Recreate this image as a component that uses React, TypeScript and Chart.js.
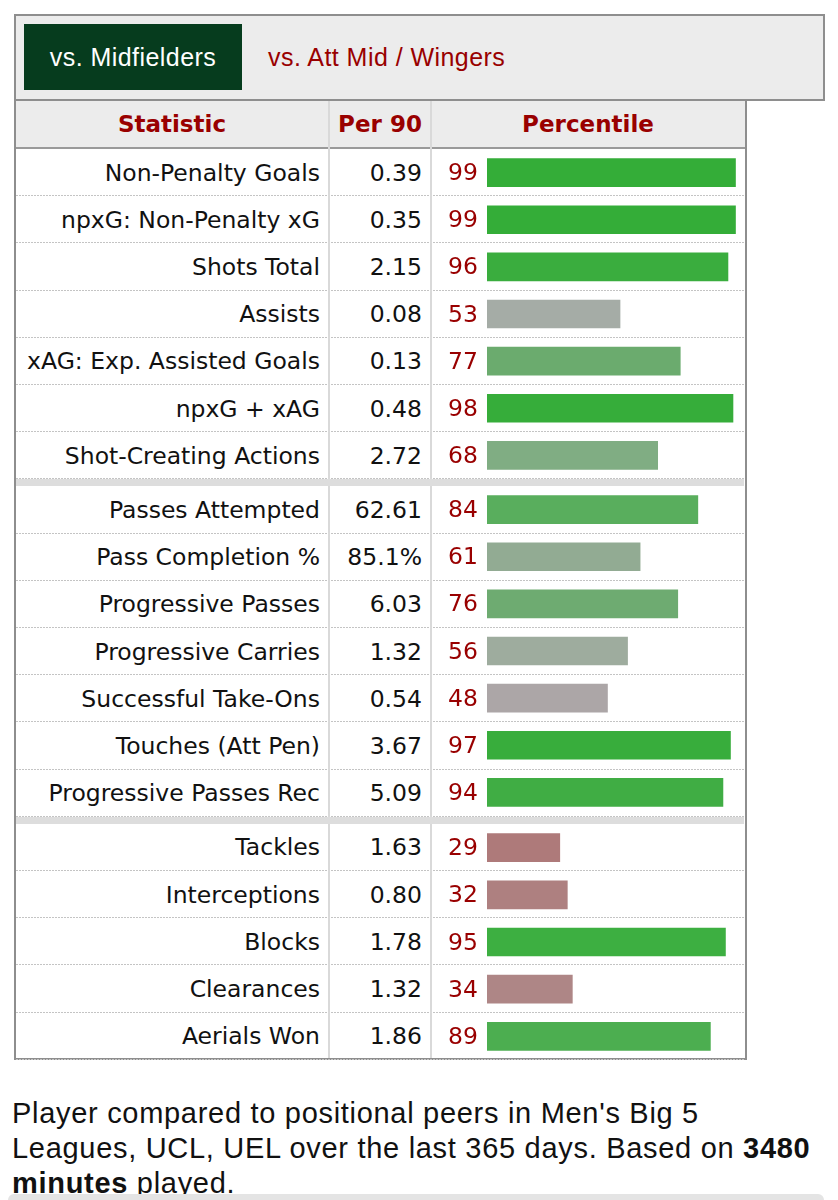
import React, { useEffect, useRef } from "react";
import { Chart, registerables } from "chart.js";

Chart.register(...registerables);

// ---------- data ----------
const statsA = [
  "Non-Penalty Goals",
  "npxG: Non-Penalty xG",
  "Shots Total",
  "Assists",
  "xAG: Exp. Assisted Goals",
  "npxG + xAG",
  "Shot-Creating Actions",
];
const per90A = ["0.39", "0.35", "2.15", "0.08", "0.13", "0.48", "2.72"];
const pctA = [99, 99, 96, 53, 77, 98, 68];

const statsB = [
  "Passes Attempted",
  "Pass Completion %",
  "Progressive Passes",
  "Progressive Carries",
  "Successful Take-Ons",
  "Touches (Att Pen)",
  "Progressive Passes Rec",
];
const per90B = ["62.61", "85.1%", "6.03", "1.32", "0.54", "3.67", "5.09"];
const pctB = [84, 61, 76, 56, 48, 97, 94];

const statsC = ["Tackles", "Interceptions", "Blocks", "Clearances", "Aerials Won"];
const per90C = ["1.63", "0.80", "1.78", "1.32", "1.86"];
const pctC = [29, 32, 95, 34, 89];

const tabLabels = ["vs. Midfielders", "vs. Att Mid / Wingers"];
const headerLabels = ["Statistic", "Per 90", "Percentile"];

// bar colour for each percentile shown
const pctColors: Record<number, string> = {
  99: "#34ad38",
  98: "#36ad3a",
  97: "#38ad3c",
  96: "#3aad3e",
  95: "#3daf41",
  94: "#40ad44",
  89: "#4cae50",
  84: "#59ae5d",
  77: "#6bab6e",
  76: "#6eab71",
  68: "#80ad83",
  61: "#92ab93",
  56: "#9eac9e",
  53: "#a5aca6",
  48: "#aca6a7",
  34: "#ae8686",
  32: "#ae8080",
  29: "#ae7a7a",
};

// ---------- layout ----------
const OX = 8;
const OY = 8;
const ROW_H = 47.2;
const SEP_H = 7;
const BODY_TOP = 149;
const COL3_LEFT = 432;
const COL3_W = 312;
const RED = "#990000";
const BODY_FONT = "'DejaVu Sans', Verdana, sans-serif";
const UI_FONT = "'Liberation Sans', Arial, Helvetica, sans-serif";

const groups = [
  { stats: statsA, per90: per90A, pct: pctA },
  { stats: statsB, per90: per90B, pct: pctB },
  { stats: statsC, per90: per90C, pct: pctC },
];

function GroupChart({ stats, pct, top }: { stats: string[]; pct: number[]; top: number }) {
  const ref = useRef<HTMLCanvasElement | null>(null);
  const h = Math.round(stats.length * ROW_H);
  useEffect(() => {
    if (!ref.current) return;
    const chart = new Chart(ref.current, {
      type: "bar",
      data: {
        labels: stats,
        datasets: [
          {
            data: pct,
            backgroundColor: pct.map((p) => pctColors[p] || "#999"),
            borderWidth: 0,
            barThickness: 28,
          },
        ],
      },
      options: {
        indexAxis: "y",
        animation: false,
        responsive: false,
        maintainAspectRatio: false,
        layout: { padding: { left: 0, right: 6, top: 0, bottom: 0 } },
        plugins: { legend: { display: false }, tooltip: { enabled: false } },
        scales: {
          x: { display: false, min: 0, max: 100 },
          y: {
            grid: { display: false, drawTicks: false },
            border: { display: false },
            ticks: {
              color: RED,
              padding: 9,
              labelOffset: 1.5,
              font: { family: "'DejaVu Sans'", size: 23.5 },
              callback: (_v: any, i: number) => String(pct[i]),
            },
            afterFit: (s: any) => {
              s.width = 55;
              s.paddingTop = 0;
              s.paddingBottom = 0;
            },
          },
        },
      },
    } as any);
    return () => chart.destroy();
  }, []);
  return (
    <canvas
      ref={ref}
      width={COL3_W}
      height={h}
      style={{
        position: "absolute",
        left: COL3_LEFT - OX,
        top: Math.round(top) - OY,
        width: COL3_W,
        height: h,
      }}
    />
  );
}

export default function App() {
  const groupTops: number[] = [];
  let t = BODY_TOP;
  groups.forEach((g) => {
    groupTops.push(t);
    t += g.stats.length * ROW_H + SEP_H;
  });

  const abs = (x: number, y: number, w: number, h: number, extra: React.CSSProperties = {}) =>
    ({
      position: "absolute",
      left: x - OX,
      top: y - OY,
      width: w,
      height: h,
      boxSizing: "border-box",
      ...extra,
    }) as React.CSSProperties;

  const rows: React.ReactNode[] = [];
  groups.forEach((g, gi) => {
    g.stats.forEach((s, i) => {
      const y = groupTops[gi] + i * ROW_H;
      rows.push(
        <div
          key={`r${gi}-${i}`}
          style={abs(16, y, 728, ROW_H, {
            backgroundImage: "linear-gradient(to right, #c4c4c4 60%, rgba(255,255,255,0) 60%)",
            backgroundSize: "3px 1px",
            backgroundRepeat: "repeat-x",
            backgroundPosition: "0 100%",
          })}
        >
          <div
            style={{
              position: "absolute",
              left: 0,
              width: 312,
              top: 0,
              height: ROW_H,
              display: "flex",
              alignItems: "center",
              justifyContent: "flex-end",
              paddingRight: 8,
              boxSizing: "border-box",
              fontFamily: BODY_FONT,
              fontSize: 23.5,
              color: "#111",
              whiteSpace: "nowrap",
            }}
          >
            {s}
          </div>
          <div
            style={{
              position: "absolute",
              left: 314,
              width: 100,
              top: 0,
              height: ROW_H,
              display: "flex",
              alignItems: "center",
              justifyContent: "flex-end",
              paddingRight: 8,
              boxSizing: "border-box",
              fontFamily: BODY_FONT,
              fontSize: 23.5,
              color: "#111",
              whiteSpace: "nowrap",
            }}
          >
            {g.per90[i]}
          </div>
        </div>
      );
    });
    if (gi < groups.length - 1) {
      const y = groupTops[gi] + g.stats.length * ROW_H;
      rows.push(
        <div key={`sep${gi}`} style={abs(16, y, 728, SEP_H, { background: "#dddddd", zIndex: 2 })} />
      );
    }
  });

  return (
    <div style={{ position: "relative", width: 830, height: 1192 }}>
      {/* tab box */}
      <div style={abs(14, 14, 811, 87, { background: "#ececec", border: "2px solid #8e8e8e" })} />
      <div
        style={abs(24, 24, 218, 66, {
          background: "#063c1e",
          color: "#fff",
          fontFamily: UI_FONT,
          fontSize: 25,
          letterSpacing: 0.45,
          display: "flex",
          alignItems: "center",
          justifyContent: "center",
        })}
      >
        {tabLabels[0]}
      </div>
      <div
        style={abs(268, 24, 300, 66, {
          color: RED,
          fontFamily: UI_FONT,
          fontSize: 25,
          letterSpacing: 0.45,
          display: "flex",
          alignItems: "center",
          whiteSpace: "nowrap",
        })}
      >
        {tabLabels[1]}
      </div>

      {/* table */}
      <div style={abs(14, 99, 733, 961, { background: "#fff", border: "2px solid #8e8e8e" })} />
      <div style={abs(16, 101, 729, 46, { background: "#ececec" })} />
      <div style={abs(16, 146.5, 729, 2.5, { background: "#9a9a9a" })} />
      {headerLabels.map((h, i) => {
        const x = [16, 330, 432][i];
        const w = [312, 100, 312][i];
        return (
          <div
            key={h}
            style={abs(x, 101, w, 46, {
              display: "flex",
              alignItems: "center",
              justifyContent: "center",
              fontFamily: BODY_FONT,
              fontWeight: "bold",
              fontSize: 23,
              color: RED,
              whiteSpace: "nowrap",
            })}
          >
            {h}
          </div>
        );
      })}
      {rows}
      {/* column separators */}
      <div style={abs(328, 101, 2, 957, { background: "#d9d9d9", zIndex: 1 })} />
      <div style={abs(430, 101, 2, 957, { background: "#d9d9d9", zIndex: 1 })} />

      {groups.map((g, gi) => (
        <GroupChart key={gi} stats={g.stats} pct={g.pct} top={groupTops[gi]} />
      ))}

      {/* footer note */}
      <div
        style={abs(12, 1096, 826, 110, {
          fontFamily: UI_FONT,
          fontSize: 29,
          letterSpacing: 0.7,
          lineHeight: "35px",
          color: "#111",
          whiteSpace: "nowrap",
        })}
      >
        Player compared to positional peers in Men's Big 5
        <br />
        Leagues, UCL, UEL over the last 365 days. Based on <b>3480</b>
        <br />
        <b>minutes</b> played.
      </div>
      <div style={abs(8, 1194, 816, 12, { background: "#e4e4e4", borderRadius: 6 })} />
    </div>
  );
}
